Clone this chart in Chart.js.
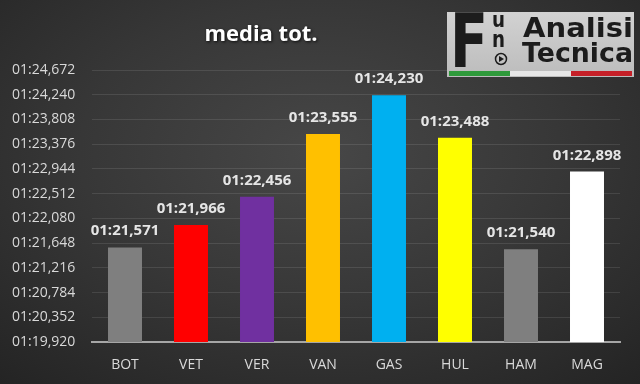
<!DOCTYPE html>
<html><head><meta charset="utf-8">
<script src="https://cdn.jsdelivr.net/npm/chart.js@4"></script>
<style>
html,body{margin:0;padding:0;background:#2b2b2b;}
#wrap{position:relative;width:640px;height:384px;background:radial-gradient(ellipse 75% 80% at 50% 40%, #474747 0%, #373737 50%, #242424 100%);}
canvas{display:block}
</style></head><body>
<div id="wrap"><canvas id="c" width="640" height="384"></canvas></div>
<script>
const categories = ['BOT','VET','VER','VAN','GAS','HUL','HAM','MAG'];
const lapSeconds = [81.571, 81.966, 82.456, 83.555, 84.230, 83.488, 81.540, 82.898];
const barColors = ['#7f7f7f','#ff0000','#7030a0','#ffc000','#00b0f0','#ffff00','#7f7f7f','#ffffff'];
const yTickValues = [79.920, 80.352, 80.784, 81.216, 81.648, 82.080, 82.512, 82.944, 83.376, 83.808, 84.240, 84.672];
const titleText = 'media tot.';
const logoWords = ['F','u','n','Analisi','Tecnica'];

function fmt(v){
  const m = Math.floor(v/60);
  const s = (v - m*60).toFixed(3).padStart(6,'0').replace('.',',');
  return String(m).padStart(2,'0') + ':' + s;
}
function fitText(ctx, text, x, y, w, font){
  ctx.font = font;
  const m = ctx.measureText(text).width;
  ctx.save(); ctx.translate(x,y); ctx.scale(w/m,1); ctx.fillText(text,0,0); ctx.restore();
}
const decor = {
  id:'decor',
  afterDatasetsDraw(chart){
    const ctx = chart.ctx;
    const meta = chart.getDatasetMeta(0);
    ctx.save();
    ctx.font = 'bold 15px "Open Sans"';
    ctx.fillStyle = '#e6e6e6';
    ctx.textAlign = 'center';
    ctx.textBaseline = 'alphabetic';
    meta.data.forEach((bar,i)=>{
      ctx.fillText(fmt(lapSeconds[i]), bar.x, bar.y - 12);
    });
    ctx.restore();
  },
  afterDraw(chart){
    const ctx = chart.ctx;
    ctx.save();
    ctx.font = 'bold 22px "Open Sans"';
    ctx.fillStyle = '#ffffff';
    ctx.textAlign = 'center';
    ctx.shadowColor = 'rgba(0,0,0,0.8)';
    ctx.shadowBlur = 3; ctx.shadowOffsetX = 1; ctx.shadowOffsetY = 1;
    ctx.fillText(titleText, 261, 41);
    ctx.restore();
    // logo
    ctx.save();
    const g = ctx.createLinearGradient(447,12,447,77);
    g.addColorStop(0,'#d2d2d2'); g.addColorStop(1,'#bcbcbc');
    ctx.fillStyle = g; ctx.fillRect(447,12,187,65);
    ctx.fillStyle='#2f9a3b'; ctx.fillRect(449,71,61,5);
    ctx.fillStyle='#e6e6e6'; ctx.fillRect(510,71,61,5);
    ctx.fillStyle='#c62028'; ctx.fillRect(571,71,61,5);
    ctx.fillStyle = '#1c1c1c';
    ctx.textAlign = 'left'; ctx.textBaseline = 'alphabetic';
    fitText(ctx, logoWords[0], 450, 67, 38, 'bold 74px "DejaVu Sans"');
    fitText(ctx, logoWords[1], 492, 27, 13, 'bold 21px "DejaVu Sans"');
    fitText(ctx, logoWords[2], 492, 47, 13, 'bold 23px "DejaVu Sans"');
    fitText(ctx, logoWords[3], 523, 37, 110, 'bold 27px "DejaVu Sans"');
    fitText(ctx, logoWords[4], 522, 62, 111, 'bold 27px "DejaVu Sans"');
    ctx.strokeStyle = '#1c1c1c'; ctx.lineWidth = 1.5;
    ctx.beginPath(); ctx.arc(501,59,5.5,0,Math.PI*2); ctx.stroke();
    ctx.beginPath(); ctx.moveTo(499,56); ctx.lineTo(504,59); ctx.lineTo(499,62); ctx.closePath(); ctx.fill();
    ctx.restore();
  }
};

new Chart(document.getElementById('c'), {
  type:'bar',
  data:{
    labels: categories,
    datasets:[{
      data: lapSeconds,
      backgroundColor: barColors,
      borderWidth: 0,
      barPercentage: 0.515,
      categoryPercentage: 1
    }]
  },
  options:{
    responsive:false,
    devicePixelRatio:1,
    animation:false,
    layout:{padding:{left:12,right:20,top:70,bottom:0}},
    plugins:{legend:{display:false},title:{display:false},tooltip:{enabled:false}},
    scales:{
      x:{
        grid:{display:false},
        border:{display:true,color:'#a6a6a6',width:2},
        ticks:{color:'#d9d9d9',font:{family:'"Open Sans"',size:14},padding:7},
        afterFit(s){ s.height = 42; }
      },
      y:{
        min: yTickValues[0],
        max: yTickValues[yTickValues.length-1],
        afterBuildTicks(s){ s.ticks = yTickValues.map(v=>({value:v})); },
        ticks:{callback:(v)=>fmt(v),color:'#d9d9d9',font:{family:'"Open Sans"',size:14},crossAlign:'far'},
        grid:{color:'rgba(255,255,255,0.1)',drawTicks:false},
        border:{display:false},
        afterFit(s){ s.width = 80; }
      }
    }
  },
  plugins:[decor]
});
</script>
</body></html>
